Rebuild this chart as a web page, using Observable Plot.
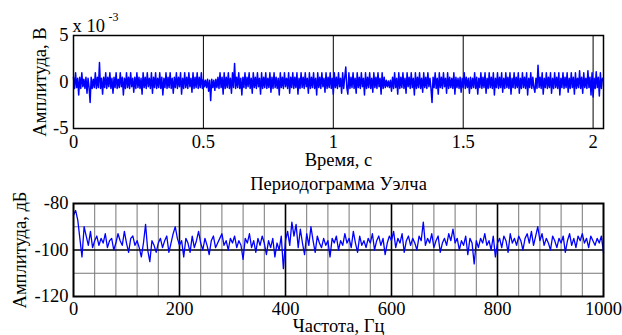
<!DOCTYPE html>
<html>
<head>
<meta charset="utf-8">
<script src="https://cdn.jsdelivr.net/npm/d3@7"></script>
<script src="https://cdn.jsdelivr.net/npm/@observablehq/plot@0.6"></script>
<style>
  html, body { margin: 0; padding: 0; background: #fff; }
  #chart { width: 622px; height: 335px; position: relative; overflow: hidden; }
  #chart svg { display: block; }
</style>
</head>
<body>
<div id="chart"></div>
<script>
// ---- Top panel: time signal (values in units of 1e-3 V), sampled every topStep seconds
const topStep = 0.004;
const topSignal = [
  0.5,-0.7,1,-0.6,0.4,-1.4,0.5,-0.7,1,-0.5,0.3,-0.7,0.5,-1.2,0.4,-0.6,-2.2,0.5,-0.7,0.3,-0.6,1,-0.7,0.5,-0.6,2.1,-0.7,0.4,-1.3,0.5,
  -0.6,1,-0.7,0.5,-0.5,1,-0.7,0.4,-1.2,0.5,-0.6,1,-0.7,0.3,-0.6,1,-0.5,0.5,-1.4,0.4,-0.7,1,-0.6,0.5,-0.7,1,-0.5,0.4,-1.1,0.5,
  -0.7,1,-0.6,0.5,-0.7,0.4,-1.3,1,-0.6,0.5,-0.7,1,-0.5,0.4,-0.7,1,-1.2,0.5,-0.6,1,-0.7,0.4,-0.6,1,-0.7,0.5,-1.4,0.4,-0.6,1,
  -0.7,0.5,-0.6,1,-0.7,0.4,-1.2,0.5,-0.6,1,-0.7,0.5,-0.5,1,-1.3,0.4,-0.7,1,-0.6,0.5,-0.7,1,-0.5,0.4,-1.1,1,-0.7,0.5,-0.6,1,
  -0.7,0.5,-0.6,1,-0.7,0.3,-0.5,0.2,-0.6,0.3,-1,0.2,-2,0.3,-0.6,0.2,-0.9,0.3,-0.6,0.5,-0.7,1,-0.6,0.5,-1.3,1,-0.7,0.5,-0.6,1,
  -0.7,0.4,-1.2,1,-0.6,2,-0.7,0.5,-0.6,1,-0.7,0.4,-1.4,0.5,-0.6,1,-0.7,0.5,-0.5,1,-0.7,0.4,-1.2,1,-0.6,0.5,-0.7,1,-0.5,0.4,
  -1.3,1,-0.7,0.5,-0.6,1,-0.7,0.4,-0.6,1,-1.1,0.5,-0.7,1,-0.6,0.5,-0.7,0.4,-1.4,1,-0.6,0.5,-0.7,1,-0.5,0.4,-0.7,1,-1.2,0.5,
  -0.6,1,-0.7,0.5,-0.6,1,-1.3,0.4,-0.7,1,-0.6,0.5,-0.7,1,-0.5,0.4,-1.2,1,-0.7,0.5,-0.6,1,-0.7,0.4,-1.4,1,-0.6,0.5,-0.7,1,
  -0.5,0.4,-1.1,1,-0.7,0.5,-0.6,1,-0.7,0.4,-1.3,1,-0.6,0.5,-0.7,1,-0.5,0.4,-1.2,1,-0.7,0.5,1.6,-0.6,-1.3,1,-0.7,0.5,-0.6,1,
  -0.7,0.4,-1.2,1,-0.6,0.5,-0.7,1,-0.5,0.4,-1.4,1,-0.7,0.5,-0.6,1,-0.7,0.4,-1.1,1,-0.6,0.5,-0.7,1,-0.5,0.4,-1.3,1,-0.7,0.5,
  -0.6,0.2,-0.5,0.1,-0.6,0.2,-1,0.5,-0.7,1,-0.6,0.4,-1.3,1,-0.7,0.5,-0.6,1,-0.7,0.4,-1.2,1,-0.5,0.5,-0.7,1,-0.6,0.4,-1.4,1,
  -0.7,0.5,-0.6,1,-0.7,0.4,-1.1,1,-0.6,0.5,-0.7,1,-0.5,0.4,-0.7,-2.2,0.5,-0.6,1,-0.7,0.4,-1.3,1,-0.6,0.5,-0.7,1,-0.5,0.4,-1.2,
  1,-0.7,0.5,-0.6,0.4,-0.7,1,-1.3,0.5,-0.6,0.4,-0.7,0.5,-1.1,0.4,-0.6,1,-0.7,0.5,-0.6,0.4,-1.2,0.5,-0.7,0.4,-0.6,1,-0.7,0.5,-1.3,
  0.4,-0.6,1,-0.7,0.5,-0.6,1,-1.2,0.4,-0.7,1,-0.6,0.5,-0.7,1,-1.4,0.4,-0.6,1,-0.7,0.5,-0.6,1,-1.1,0.4,-0.7,1,-0.6,0.5,-0.7,
  1,-1.3,0.4,-0.6,1,-0.7,0.5,-0.6,1,-1.2,0.4,-0.7,1,-0.6,0.5,-0.7,1,-1.4,0.4,-0.6,1,-0.7,0.5,-0.6,-1.1,0.4,-0.7,1.8,-0.6,0.5,
  -0.7,1,-1.3,0.4,-0.6,1,-0.7,0.5,-0.6,1,-1.2,0.4,-0.7,1,-0.6,0.5,-0.7,1,-1.4,0.4,-0.6,1,-0.7,0.5,-0.6,1,-1.1,0.4,-0.7,1,
  -0.6,0.5,-1.3,1,-0.7,0.4,-0.6,1.2,-0.7,0.5,-1.2,1,-0.6,0.4,-0.7,1.2,-0.6,0.5,-1.4,1,-1.6,0.4,-0.7,1.1,-0.6,0.5,-1.5,1,-0.7,0.4
];
const topXDomain = [0, 2.04];
const topXTicks = [0, 0.5, 1, 1.5, 2];
const topYTicks = [-5, 0, 5];
const topGridX = [0.5, 1, 1.5, 2];

// ---- Bottom panel: Welch periodogram (dB), every welchStep Hz
const welchStep = 4;
const welchDb = [
  -85,-83,-87,-95,-103,-90,-94,-98,-92,-99,
  -96,-94,-98,-95,-97,-93,-99,-96,-95,-100,
  -97,-93,-96,-98,-92,-97,-101,-95,-94,-98,
  -96,-99,-103,-97,-89,-100,-105,-96,-98,-101,
  -97,-95,-99,-96,-94,-101,-97,-93,-90,-95,
  -98,-96,-103,-95,-97,-101,-94,-99,-96,-92,
  -97,-100,-95,-98,-102,-96,-94,-99,-97,-95,
  -93,-98,-96,-100,-95,-97,-94,-99,-96,-98,
  -104,-95,-97,-93,-99,-96,-101,-95,-98,-94,
  -97,-102,-96,-99,-95,-103,-97,-100,-94,-108,
  -96,-92,-98,-88,-94,-89,-99,-91,-97,-102,
  -93,-98,-90,-96,-101,-94,-97,-99,-95,-98,
  -96,-103,-95,-97,-94,-100,-96,-98,-93,-97,
  -95,-99,-92,-97,-101,-94,-98,-96,-99,-95,
  -97,-93,-100,-96,-94,-98,-95,-102,-97,-94,
  -96,-92,-99,-95,-97,-93,-101,-96,-94,-98,
  -95,-97,-100,-94,-96,-88,-98,-95,-97,-93,
  -99,-96,-94,-101,-97,-95,-98,-93,-96,-91,
  -97,-95,-100,-96,-98,-94,-102,-95,-97,-106,
  -96,-99,-95,-97,-93,-98,-96,-100,-94,-103,
  -97,-95,-99,-94,-96,-101,-93,-97,-95,-98,
  -94,-96,-100,-95,-93,-97,-92,-98,-94,-90,
  -96,-93,-98,-95,-97,-100,-94,-96,-99,-95,
  -97,-94,-101,-96,-93,-98,-95,-99,-94,-96,
  -93,-97,-95,-99,-94,-96,-98,-95,-97,-94,
  -101
];
const botXDomain = [0, 1000];
const botXTicks = [0, 200, 400, 600, 800, 1000];
const botYDomain = [-120, -80];
const botYTicks = [-120, -100, -80];
const botMajorX = [200, 400, 600, 800];
const botMajorY = [-100];
const botMinorX = [40, 80, 120, 160, 240, 280, 320, 360, 440, 480, 520, 560, 640, 680, 720, 760, 840, 880, 920, 960];
const botMinorY = [-110, -90];

// Text
const topXLabel = "Время, с";
const topYLabel = "Амплитуда, В";
const topExpBase = "x 10";
const topExpPow = "-3";
const botTitle = "Периодограмма Уэлча";
const botXLabel = "Частота, Гц";
const botYLabel = "Амплитуда, дБ";

const FONT = "Liberation Serif";
const FS = 18.5;
const BLUE = "#0000ff";

const topRows = topSignal.map((v, i) => ({t: i * topStep, v}));
const botRows = welchDb.map((v, i) => ({f: i * welchStep, v}));

const style = {fontFamily: FONT, fontSize: FS + "px", color: "black", background: "white", overflow: "visible"};
const T = {fontSize: FS, fontFamily: FONT, fill: "black", textAnchor: "middle", lineAnchor: "middle"};
const AX = {tickSize: 0, label: null, fontSize: FS, fontFamily: FONT, fontVariant: "normal", tickFormat: d => String(d)};

const topPlot = Plot.plot({
  width: 622, height: 165,
  marginLeft: 73, marginRight: 19, marginTop: 35, marginBottom: 37,
  style,
  x: {domain: topXDomain, ticks: topXTicks},
  y: {domain: [-5, 5], ticks: topYTicks},
  marks: [
    Plot.ruleX(topGridX, {stroke: "black", strokeWidth: 1}),
    Plot.line(topRows, {x: "t", y: "v", stroke: BLUE, strokeWidth: 1.5}),
    Plot.frame({stroke: "black", strokeWidth: 1.5}),
    Plot.axisX({...AX, ticks: topXTicks, tickPadding: 6}),
    Plot.axisY({...AX, ticks: topYTicks, tickPadding: 5}),
    Plot.text([topXLabel], {...T, frameAnchor: "bottom", dy: 32}),
    Plot.text([topYLabel], {...T, frameAnchor: "left", dx: -33, rotate: -90}),
    Plot.text([topExpBase], {...T, frameAnchor: "top-left", textAnchor: "start", dx: -1, dy: -9.2}),
    Plot.text([topExpPow], {...T, fontSize: 12, frameAnchor: "top-left", textAnchor: "start", dx: 35, dy: -18})
  ]
});

const botPlot = Plot.plot({
  width: 622, height: 170,
  marginLeft: 73, marginRight: 19, marginTop: 38, marginBottom: 39,
  style,
  x: {domain: botXDomain, ticks: botXTicks},
  y: {domain: botYDomain, ticks: botYTicks},
  marks: [
    Plot.ruleX(botMinorX, {stroke: "#777", strokeWidth: 1}),
    Plot.ruleY(botMinorY, {stroke: "#777", strokeWidth: 1}),
    Plot.ruleX(botMajorX, {stroke: "black", strokeWidth: 1.6}),
    Plot.ruleY(botMajorY, {stroke: "black", strokeWidth: 1.6}),
    Plot.line(botRows, {x: "f", y: "v", stroke: BLUE, strokeWidth: 1.3}),
    Plot.frame({stroke: "black", strokeWidth: 2}),
    Plot.axisX({...AX, ticks: botXTicks, tickPadding: 5}),
    Plot.axisY({...AX, ticks: botYTicks, tickPadding: 5}),
    Plot.text([botTitle], {...T, frameAnchor: "top", dy: -19.9}),
    Plot.text([botXLabel], {...T, frameAnchor: "bottom", dy: 29.3}),
    Plot.text([botYLabel], {...T, frameAnchor: "left", dx: -53, rotate: -90})
  ]
});

const el = document.getElementById("chart");
el.appendChild(topPlot);
el.appendChild(botPlot);
</script>
</body>
</html>
